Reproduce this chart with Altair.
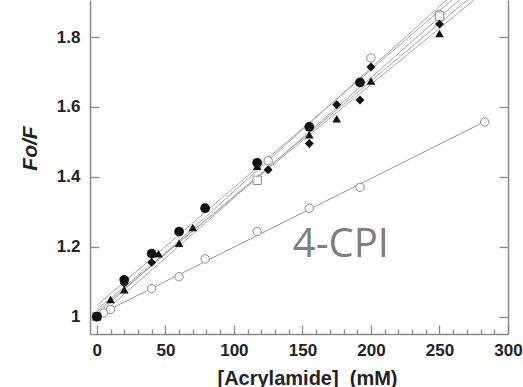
import altair as alt
import pandas as pd

# ---- data ----
circ_x = [0, 20, 40, 60, 79, 117, 155, 192]
circ_y = [1.0, 1.105, 1.18, 1.243, 1.31, 1.44, 1.543, 1.67]

diam_x = [0, 20, 40, 125, 155, 175, 192, 200, 250]
diam_y = [1.0, 1.095, 1.155, 1.42, 1.495, 1.606, 1.62, 1.714, 1.837]

tri_x = [0, 10, 20, 45, 60, 70, 117, 155, 175, 200, 250]
tri_y = [1.0, 1.049, 1.077, 1.18, 1.21, 1.255, 1.43, 1.52, 1.566, 1.674, 1.81]

sq_x = [0, 117, 250]
sq_y = [1.0, 1.39, 1.86]

ocirc_x = [0, 125, 200, 250]
ocirc_y = [1.0, 1.446, 1.74, 1.865]

low_x = [0, 5, 10, 40, 60, 79, 117, 155, 192, 283]
low_y = [1.0, 1.01, 1.02, 1.08, 1.114, 1.165, 1.243, 1.31, 1.37, 1.557]

x_ticks = list(range(0, 301, 10))
y_ticks = [1.0, 1.2, 1.4, 1.6, 1.8]

label_text = ["4-CPI"]
label_x = [143]
label_y = [1.169]

def frame(xs, ys, name):
    return pd.DataFrame({"x": xs, "y": ys, "s": name})

d_circ = frame(circ_x, circ_y, "circle")
d_diam = frame(diam_x, diam_y, "diamond")
d_tri = frame(tri_x, tri_y, "triangle")
d_sq = frame(sq_x, sq_y, "square")
d_oc = frame(ocirc_x, ocirc_y, "ocircle")
upper = pd.concat([d_circ, d_diam, d_tri, d_sq, d_oc])
lower = frame(low_x, low_y, "lower")
labels = pd.DataFrame({"t": label_text, "x": label_x, "y": label_y})

XDOM = [-5, 300]
YDOM = [0.95, 1.906]
AXC = "#8a8a8a"

xscale = alt.Scale(domain=XDOM, nice=False, zero=False)
yscale = alt.Scale(domain=YDOM, nice=False, zero=False)

xaxis = alt.Axis(
    values=x_ticks,
    title="[Acrylamide]\u00a0\u00a0(mM)",
    labelExpr="datum.value % 50 === 0 ? datum.label : ''",
    tickSize={"condition": {"test": "datum.value % 50 === 0", "value": -9}, "value": -5},
    labelPadding=17,
    domainColor=AXC, tickColor=AXC, domainWidth=1.5, tickWidth=1.3,
    labelFont="Liberation Sans", labelFontWeight="bold", labelFontSize=17, labelColor="#222",
    titleFont="Liberation Sans", titleFontWeight="bold", titleFontSize=20, titleColor="#222",
    titleX=217, titleY=44, titleBaseline="middle", titleAnchor="middle",
    grid=False, labelFlush=False, labelOverlap=False,
)
yaxis = alt.Axis(
    values=y_ticks,
    title="Fo/F",
    format="~f",
    tickSize=alt.expr("-9"),
    labelPadding=19,
    domainColor=AXC, tickColor=AXC, domainWidth=1.5, tickWidth=1.3,
    labelFont="Liberation Sans", labelFontWeight="bold", labelFontSize=17, labelColor="#222",
    titleFont="Liberation Sans", titleFontWeight="bold", titleFontStyle="italic",
    titleFontSize=21, titleColor="#222",
    titleX=-60, titleY=148, titleAngle=270, titleBaseline="middle", titleAnchor="middle",
    grid=False, labelFlush=False, labelOverlap=False,
)

X = alt.X("x:Q", scale=xscale, axis=xaxis)
Y = alt.Y("y:Q", scale=yscale, axis=yaxis)

up_lines = alt.Chart(upper).transform_regression(
    "x", "y", groupby=["s"], extent=[0, 290]
).mark_line(color="#a8a8a8", strokeWidth=1, clip=True).encode(
    x=X, y=Y, detail="s:N"
)
low_line = alt.Chart(lower).transform_regression(
    "x", "y", extent=[0, 283]
).mark_line(color="#9a9a9a", strokeWidth=1, clip=True).encode(x=X, y=Y)

def open_layer(df, shape, size):
    return alt.Chart(df).mark_point(
        shape=shape, filled=True, fill="white", stroke="#8a8a8a",
        strokeWidth=1, opacity=1, size=size
    ).encode(x=X, y=Y)

def filled_layer(df, shape, size):
    return alt.Chart(df).mark_point(
        shape=shape, filled=True, color="#111", opacity=1, size=size
    ).encode(x=X, y=Y)

text = alt.Chart(labels).mark_text(
    align="left", baseline="alphabetic", font="Open Sans", fontSize=40, color="#7f7f7f"
).encode(x=X, y=Y, text="t:N")

inner = alt.layer(
    up_lines, low_line,
    open_layer(lower, "circle", 70),
    open_layer(d_oc, "circle", 70),
    open_layer(d_sq, "square", 70),
    filled_layer(d_tri, "triangle-up", 75),
    filled_layer(d_diam, "diamond", 80),
    filled_layer(d_circ, "circle", 95),
    text,
)

right = alt.Chart(lower).mark_point(opacity=0).encode(
    x=alt.X("x:Q", scale=xscale, axis=xaxis),
    y=alt.Y("y:Q", scale=yscale, axis=alt.Axis(
        orient="right", values=y_ticks, labels=False, title=None,
        tickSize=alt.expr("-9"), domainColor=AXC, tickColor=AXC,
        domainWidth=1.5, tickWidth=1.3, grid=False)),
)

chart = alt.layer(inner, right).resolve_scale(y="independent").properties(
    width=418, height=334,
    autosize=alt.AutoSizeParams(type="none"),
    padding={"left": 90, "top": 0, "right": 15, "bottom": 53},
).configure_view(stroke=None)

chart.save("out.html", embed_options={"renderer": "svg", "actions": False})
